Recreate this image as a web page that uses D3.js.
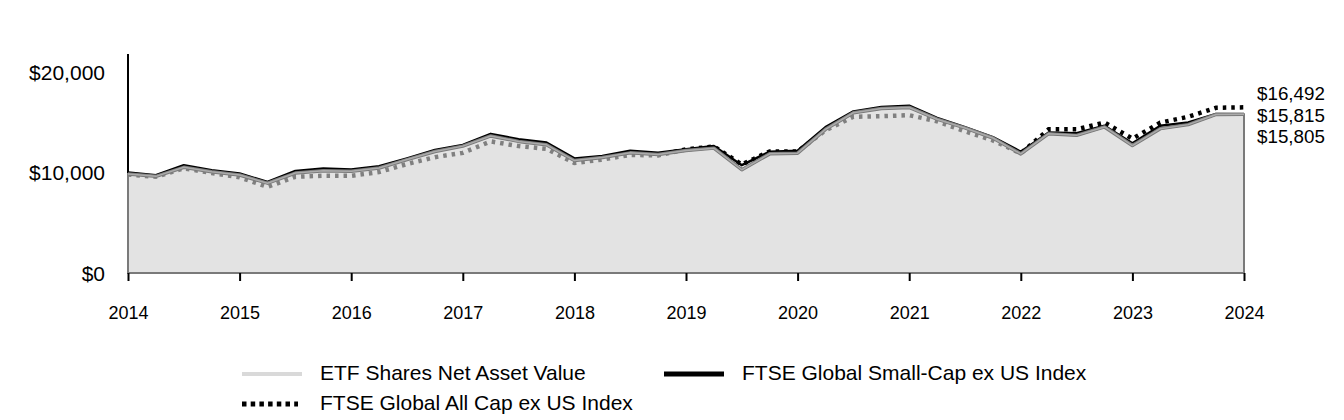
<!DOCTYPE html>
<html>
<head>
<meta charset="utf-8">
<script src="https://cdn.jsdelivr.net/npm/d3@7"></script>
<style>
  html, body { margin: 0; padding: 0; background: #fff; }
  svg { display: block; font-family: "Liberation Sans", Arial, sans-serif; }
</style>
</head>
<body>
<svg id="chart" width="1344" height="420"></svg>
<script>
// ---- Data (quarterly, 2014 Q1 start to 2024) ----
const startYear = 2014;
const yearTicks = [2014, 2015, 2016, 2017, 2018, 2019, 2020, 2021, 2022, 2023, 2024];
const yTicks = [0, 10000, 20000];

const seriesNames = [
  "ETF Shares Net Asset Value",
  "FTSE Global Small-Cap ex US Index",
  "FTSE Global All Cap ex US Index"
];

const navValues = [
  9850, 9620, 10520, 10080, 9750, 8940, 9950, 10180, 10120, 10450,
  11290, 12090, 12630, 13640, 13100, 12760, 11190, 11490, 11960, 11800,
  12190, 12430, 10280, 11860, 11930, 14300, 15950, 16380, 16480, 15310,
  14440, 13440, 11860, 13870, 13700, 14540, 12690, 14370, 14770, 15780,
  15805
];

const smallCapValues = [
  10000, 9730, 10730, 10230, 9900, 9060, 10160, 10400, 10300, 10630,
  11410, 12240, 12740, 13850, 13320, 12980, 11410, 11640, 12170, 11980,
  12310, 12640, 10730, 12070, 12170, 14520, 16090, 16530, 16660, 15430,
  14520, 13520, 12070, 13980, 13920, 14650, 12910, 14650, 14980, 15830,
  15815
];

const allCapValues = [
  9800, 9580, 10420, 9950, 9520, 8570, 9580, 9680, 9680, 10050,
  10850, 11530, 11960, 13100, 12630, 12360, 10950, 11290, 11760, 11700,
  12300, 12600, 10800, 12100, 12100, 14200, 15550, 15610, 15710, 15100,
  14100, 13200, 11900, 14300, 14300, 14970, 13370, 14970, 15550, 16450,
  16492
];

const endLabels = ["$16,492", "$15,815", "$15,805"];

// ---- Chart ----
const svg = d3.select("#chart");
const x = d3.scaleLinear().domain([2014, 2024]).range([128, 1244]);
const y = d3.scaleLinear().domain([0, 21800]).range([273, 54]);

const t = (i) => startYear + i * 0.25;
const pts = (arr) => arr.map((v, i) => ({ t: t(i), v }));

const line = d3.line().x(d => x(d.t)).y(d => y(d.v));
const area = d3.area().x(d => x(d.t)).y0(y(0)).y1(d => y(d.v));

// y axis (left vertical line + labels)
svg.append("line")
  .attr("x1", x(2014)).attr("x2", x(2014))
  .attr("y1", y.range()[1]).attr("y2", y(0))
  .attr("stroke", "#000").attr("stroke-width", 2);

svg.append("g").selectAll("text").data(yTicks).join("text")
  .attr("x", 105).attr("y", d => y(d) + 2)
  .attr("text-anchor", "end").attr("dominant-baseline", "middle")
  .attr("font-size", 21).attr("fill", "#000")
  .text(d => "$" + d3.format(",")(d));

// Index lines (drawn under the semi-transparent NAV area)
svg.append("path").datum(pts(smallCapValues))
  .attr("d", line).attr("fill", "none")
  .attr("stroke", "#000").attr("stroke-width", 2.5)
  .attr("stroke-linejoin", "round");

svg.append("path").datum(pts(allCapValues))
  .attr("d", line).attr("fill", "none")
  .attr("stroke", "#000").attr("stroke-width", 4.5)
  .attr("stroke-dasharray", "3.5,5");

// NAV area
svg.append("path").datum(pts(navValues))
  .attr("d", area)
  .attr("fill", "rgb(209,209,209)").attr("fill-opacity", 0.61)
  .attr("stroke", "#7a7a7a").attr("stroke-width", 2);

svg.append("path").datum(pts(navValues))
  .attr("d", line).attr("fill", "none")
  .attr("stroke", "#7a7a7a").attr("stroke-width", 3.5)
  .attr("stroke-linejoin", "round");
svg.append("path").datum(pts(navValues))
  .attr("d", line).attr("fill", "none")
  .attr("stroke", "#ababab").attr("stroke-width", 1.5)
  .attr("stroke-linejoin", "round");

// x axis ticks + labels
const xAxis = d3.axisBottom(x).tickValues(yearTicks).tickFormat(d3.format("d"))
  .tickSize(8).tickPadding(25);
const gx = svg.append("g").attr("transform", `translate(0,${y(0)})`).call(xAxis);
gx.select(".domain").remove();
gx.selectAll(".tick line").attr("stroke", "#000").attr("stroke-width", 2);
gx.selectAll(".tick text").attr("font-size", 18).attr("fill", "#000")
  .attr("font-family", "Liberation Sans, Arial, sans-serif");

// End labels (stacked around the end values)
const lastVals = [allCapValues.at(-1), smallCapValues.at(-1), navValues.at(-1)];
const meanY = d3.mean(lastVals, v => y(v)) + 5;
const gap = 21.5;
svg.append("g").selectAll("text").data(endLabels).join("text")
  .attr("x", 1257)
  .attr("y", (d, i) => meanY + (i - 1) * gap)
  .attr("dominant-baseline", "middle")
  .attr("font-size", 18.8).attr("fill", "#000")
  .text(d => d);

// Legend
const legend = [
  { name: seriesNames[0], x: 242, y: 374, stroke: "#d9d9d9", w: 4, dash: null, len: 60 },
  { name: seriesNames[1], x: 664, y: 374, stroke: "#000", w: 5, dash: null, len: 60 },
  { name: seriesNames[2], x: 242, y: 404, stroke: "#000", w: 5, dash: "4.5,4.2", len: 56 }
];
const lg = svg.append("g").selectAll("g").data(legend).join("g");
lg.append("line")
  .attr("x1", d => d.x).attr("x2", d => d.x + d.len)
  .attr("y1", d => d.y).attr("y2", d => d.y)
  .attr("stroke", d => d.stroke).attr("stroke-width", d => d.w)
  .attr("stroke-dasharray", d => d.dash);
lg.append("text")
  .attr("x", d => d.x + 78).attr("y", d => d.y)
  .attr("dominant-baseline", "middle")
  .attr("font-size", 21).attr("fill", "#000")
  .text(d => d.name);
</script>
</body>
</html>
